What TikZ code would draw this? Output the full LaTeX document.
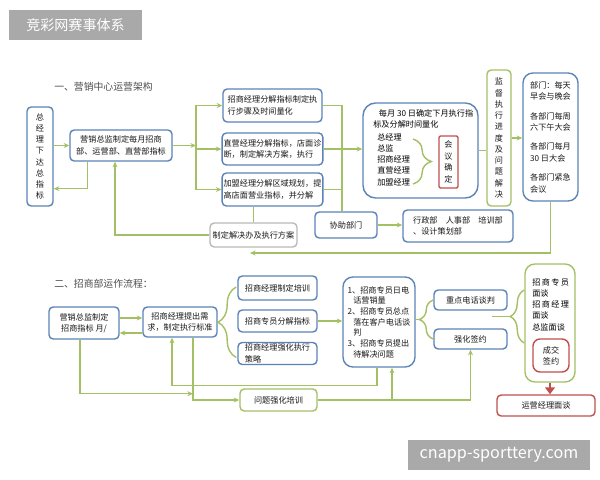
\documentclass[tikz,border=0pt]{standalone}
\usepackage{fontspec}
\usetikzlibrary{positioning, arrows.meta, calc, decorations.pathreplacing}
\newfontfamily\cjk{Noto Sans CJK SC}
\definecolor{boxblue}{HTML}{5B83B8}
\definecolor{lgreen}{HTML}{A4C064}
\definecolor{boxred}{HTML}{C0504D}
\definecolor{wmgray}{HTML}{A9A9A9}
\newcommand{\boxfont}{\cjk\fontsize{5.8}{8}\selectfont}
\tikzset{
  bluebox/.style={rectangle, rounded corners=3pt, draw=boxblue, line width=1pt, fill=white, align=center, inner sep=1pt, font=\boxfont, text=black!90},
  greenbox/.style={bluebox, draw=lgreen},
  redbox/.style={bluebox, draw=boxred},
  line/.style={draw=lgreen, line width=1pt},
  arrow/.style={line, -{Stealth[length=4pt, width=3.5pt]}},
  brc/.style={line, decorate, decoration={brace, amplitude=#1}},
  brc/.default=8pt,
  wmark/.style={rectangle, fill=wmgray, text=white, font=\cjk\fontsize{10}{12}\selectfont, inner sep=0pt},
  title/.style={font=\cjk\fontsize{7}{8}\selectfont, text=black!70, inner sep=0pt}
}
\begin{document}
\begin{tikzpicture}[x=0.025cm, y=-0.025cm, sz/.style 2 args={minimum width=#1*0.025cm, minimum height=#2*0.025cm}]
\useasboundingbox (0,0) rectangle (600,480);

% watermarks
\node (wmtop) [wmark, sz={133}{30}] at (75.5,25) {竞彩网赛事体系};
\node (wmbot) [wmark, sz={182}{30}, font=\cjk\fontsize{11.5}{13}\selectfont] at (499,455) {cnapp-sporttery.com};

% 一、营销中心运营架构
\node (title1) [title, anchor=west] at (54,87) {一、营销中心运营架构};
\node (zjl) [bluebox, sz={26}{99}] at (40,156.5) {总\\经\\理\\下\\达\\总\\指\\标};
\node (yxzj) [bluebox, sz={102}{31}] at (121,145.5) {营销总监制定每月招商\\部、运营部、直营部指标};
\node (zs1) [bluebox, sz={99}{33}, align=left] at (272.5,105.5) {招商经理分解指标制定执\\行步骤及时间量化};
\node (zy1) [bluebox, sz={99}{32}, align=left] at (272.5,149) {直营经理分解指标，店面诊\\断，制定解决方案，执行};
\node (jm1) [bluebox, sz={99}{33}, align=left] at (272.5,189.5) {加盟经理分解区域规划，提\\高店面营业指标，并分解};
\node (fangan) [bluebox, draw=gray!55, sz={87}{24}] at (253.5,235) {制定解决办及执行方案};
\node (xiezhu) [bluebox, sz={62}{26}] at (346,225) {协助部门};
\node (xingzheng) [bluebox, sz={110}{32}, align=left] at (458,226) {行政部\quad 人事部\quad 培训部\\、设计策划部};

% 会议
\node (meet) [bluebox, rounded corners=9pt, sz={115}{95}] at (420.5,150.5) {};
\node (mtitle) [font=\boxfont, align=left, anchor=north west, inner sep=0pt] at (373,109) {\hspace{4pt}每月 30 日确定下月执行指\\标及分解时间量化};
\node (mlist) [font=\boxfont, align=left, anchor=north west, inner sep=0pt] at (377,133) {总经理\\总监\\招商经理\\直营经理\\加盟经理};
\node (huiyi) [redbox, rounded corners=1pt, sz={19}{52}, font=\cjk\fontsize{5.8}{8.3}\selectfont] at (448.5,162) {会\\议\\确\\定};
\draw[brc=13pt] (413,139) -- (413,184);
\node (jiandu) [greenbox, sz={24}{136}] at (499,138) {监\\督\\执\\行\\进\\度\\及\\问\\题\\解\\决};
\node (bumen) [bluebox, rounded corners=7pt, sz={55}{128}, align=left] at (550.5,137) {部门：每天\\早会与晚会\\[6pt]各部门每周\\六下午大会\\[6pt]各部门每月\\30 日大会\\[6pt]各部门紧急\\会议};

% 连线
\draw[arrow] (zjl.east |- yxzj.west) -- (yxzj.west);
\draw[arrow] ($(yxzj.south west)+(18,0)$) |- ($(zjl.south east)+(0,-18)$);
\coordinate (br1) at (196,145.5);
\draw[arrow] (yxzj.east) -- (br1);
\draw[arrow] (br1) |- (zs1.west);
\draw[arrow] (br1) |- (zy1.west);
\draw[arrow] (br1) |- (jm1.west);
\coordinate (br2) at (342,149);
\draw[line] (zs1.east) -| (br2) -- (br2 |- xiezhu.north);
\draw[line] (zy1.east) -- (br2);
\draw[line] (jm1.east) -| (br2);
\draw[arrow] (br2) -- (br2 -| meet.west);
\draw[line] (jm1.south -| fangan.north) -- (fangan.north);
\draw[arrow] (fangan.west) -| ($(yxzj.south)+(-6,0)$);
\draw[arrow] (xiezhu.east) -- (xiezhu.east -| xingzheng.west);
\draw[line] (meet.east) -- (meet.east -| jiandu.west);
\draw[arrow] (jiandu.east) -- (jiandu.east -| bumen.west);
\coordinate (fb) at (250,253);
\draw[arrow] (bumen.south) |- (fb);

% 二、招商部运作流程
\node (title2) [title, anchor=west] at (54,284) {二、招商部运作流程：};
\node (zj2) [bluebox, sz={70}{32}] at (84,323) {营销总监制定\\招商指标\ 月/};
\node (jl2) [bluebox, sz={74}{30}] at (180,322) {招商经理提出需\\求，制定执行标准};
\node (pa) [bluebox, sz={79}{24}] at (277.5,288) {招商经理制定培训};
\node (pb) [bluebox, sz={79}{22}] at (277.5,321) {招商专员分解指标};
\node (pc) [bluebox, sz={79}{22}, align=left] at (277.5,353.5) {招商经理强化执行\\策略};
\node (steps) [bluebox, rounded corners=7pt, sz={72}{90}, align=left, font=\cjk\fontsize{5.8}{7.6}\selectfont] at (379,322) {1、招商专员日电\\\hspace{4pt}话营销量\\2、招商专员总点\\\hspace{4pt}落在客户电话谈\\\hspace{4pt}判\\3、招商专员提出\\\hspace{4pt}待解决问题};
\node (zd) [bluebox, sz={73}{20}] at (470.5,300) {重点电话谈判};
\node (qy) [bluebox, sz={73}{20}] at (470.5,339) {强化签约};
\node (rbx) [greenbox, rounded corners=7pt, sz={50}{118}] at (550,323) {};
\node (rtxt) [font=\boxfont, align=left, anchor=north west, inner sep=0pt] at (532,278) {招\,商\,专\,员\\面谈\\招\,商\,经\,理\\面谈\\总监面谈};
\node (cj) [redbox, rounded corners=5pt, sz={36}{33}] at (551,355.5) {成交\\签约};
\node (yyjl) [redbox, sz={98}{21}] at (546,405.5) {运营经理面谈};
\node (wt) [greenbox, sz={77}{22}] at (278.5,400) {问题强化培训};

\draw[arrow] ($(zj2.east)+(0,-5)$) -- ($(jl2.west)+(0,-4)$);
\draw[arrow] ($(jl2.west)+(0,11)$) -- ($(zj2.east)+(0,10)$);
\draw[brc=13pt] ($(pc.west)+(-1,4)$) -- ($(pa.west)+(-1,-1)$);
\draw[arrow] (pb.east) -- (pb.east -| steps.west);
\draw[brc=10pt] (qy.west) -- (zd.west);
\coordinate (tip2) at ($(zd.west)!0.5!(qy.west)+(-15,0)$);
\draw[line] (steps.east |- tip2) -- (tip2);
\draw[brc=10pt] ($(rbx.west)+(0,20)$) -- ($(rbx.west)+(0,-33)$);
\coordinate (tip3) at ($(rbx.west)+(-14,-6.5)$);
\coordinate (tip3e) at ($(tip3)+(-18,0)$);
\draw[line] (tip3) -- (tip3e);
\draw[draw=boxred, line width=2pt, -{Triangle[length=5pt, width=7pt]}] (rbx.south) -- (rbx.south |- yyjl.north);

% 底部回路
\coordinate (j1) at ($(jl2.south)+(13,56)$);
\draw[arrow] ($(zj2.south)+(-4,0)$) |- (j1);
\draw[arrow] ($(jl2.south)+(13,0)$) |- (wt.west);
\draw[arrow] ($(steps.south)+(-2,0)$) -- ++(0,18) -| ($(jl2.south)+(-8,0)$);
\draw[arrow] (wt.east) -| (qy.south);
\coordinate (j2) at ($(steps.south)+(13,0)$);
\draw[arrow] (j2 |- wt.east) -- (j2);
\end{tikzpicture}
\end{document}
